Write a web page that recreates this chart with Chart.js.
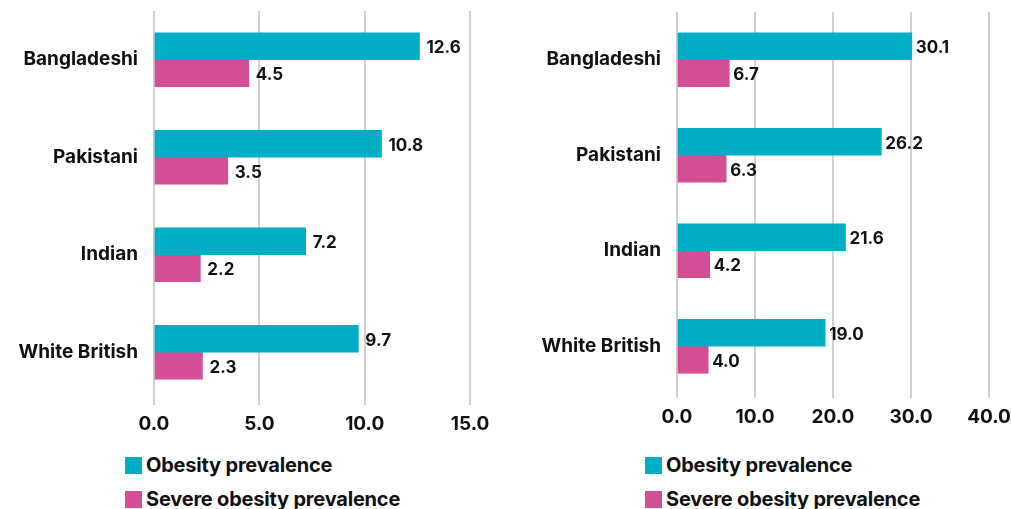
<!DOCTYPE html>
<html lang="en">
<head>
<meta charset="UTF-8">
<title>Obesity prevalence by ethnic group</title>
<script src="https://cdn.jsdelivr.net/npm/chart.js"></script>
<style>
  body { margin: 0; background: #fff; font-family: Inter, sans-serif; }
  canvas { position: absolute; top: 0; }
  #leftChart { left: 0; }
  #rightChart { left: 505px; }
  .legend { position: absolute; top: 448px; font-weight: 700; font-size: 20px; color: #111; letter-spacing: -0.2px; }
  .legend .row { display: flex; align-items: center; height: 34px; }
  .legend .box { width: 17px; height: 17px; margin-right: 4px; }
</style>
</head>
<body>

<canvas id="leftChart" width="505" height="445"></canvas>
<canvas id="rightChart" width="506" height="445"></canvas>
<div class="legend" id="leftLegend" style="left:125px"></div>
<div class="legend" id="rightLegend" style="left:645px"></div>

<script>
  // groups and series
  const groups = ["Bangladeshi", "Pakistani", "Indian", "White British"];
  const seriesNames = ["Obesity prevalence", "Severe obesity prevalence"];
  const seriesColors = ["#00ADC6", "#D54D94"];

  // left panel
  const leftObesity = [12.6, 10.8, 7.2, 9.7];
  const leftSevere = [4.5, 3.5, 2.2, 2.3];
  const leftTicks = [0, 5, 10, 15];

  // right panel
  const rightObesity = [30.1, 26.2, 21.6, 19.0];
  const rightSevere = [6.7, 6.3, 4.2, 4.0];
  const rightTicks = [0, 10, 20, 30, 40];

  const FONT = "Inter, sans-serif";

  // writes the value just past the end of each bar
  const barValues = {
    id: "barValues",
    afterDatasetsDraw(chart, args, opts) {
      const ctx = chart.ctx;
      ctx.save();
      ctx.font = "700 17px " + FONT;
      ctx.fillStyle = "#111";
      ctx.textBaseline = "middle";
      ctx.textAlign = "left";
      chart.data.datasets.forEach((ds, i) => {
        chart.getDatasetMeta(i).data.forEach((bar, j) => {
          ctx.fillText(ds.data[j].toFixed(1), bar.x + opts.gap, bar.y + 2);
        });
      });
      ctx.restore();
    }
  };

  function makeChart(id, obesity, severe, ticks, pad, yWidth, gap) {
    const ctx = document.getElementById(id).getContext("2d");
    return new Chart(ctx, {
      type: "bar",
      data: {
        labels: groups,
        datasets: [
          { label: seriesNames[0], data: obesity, backgroundColor: seriesColors[0], barThickness: 27 },
          { label: seriesNames[1], data: severe, backgroundColor: seriesColors[1], barThickness: 27 }
        ]
      },
      options: {
        indexAxis: "y",
        responsive: false,
        animation: false,
        layout: { padding: pad },
        plugins: {
          legend: { display: false },
          tooltip: { enabled: false },
          barValues: { gap: gap }
        },
        scales: {
          x: {
            min: ticks[0],
            max: ticks[ticks.length - 1],
            afterBuildTicks: s => { s.ticks = ticks.map(v => ({ value: v })); },
            afterFit: s => { s.height = 44; s.paddingLeft = 0; s.paddingRight = 0; },
            border: { display: false },
            grid: { color: "#D0D0D0", lineWidth: 2, drawTicks: true, tickLength: 4, tickColor: "#D0D0D0" },
            ticks: {
              padding: 8,
              color: "#111",
              font: { family: FONT, size: 19, weight: "700" },
              callback: v => Number(v).toFixed(1)
            }
          },
          y: {
            afterFit: s => { s.width = yWidth; s.paddingTop = 0; s.paddingBottom = 0; },
            border: { display: false },
            grid: { display: false, drawTicks: false },
            ticks: {
              padding: 16,
              color: "#111",
              font: { family: FONT, size: 19, weight: "700" }
            }
          }
        }
      },
      plugins: [barValues]
    });
  }

  makeChart("leftChart", leftObesity, leftSevere, leftTicks,
    { top: 11, right: 35, left: 0, bottom: 0 }, 154, 7);
  makeChart("rightChart", rightObesity, rightSevere, rightTicks,
    { top: 12, right: 22, left: 0, bottom: 7 }, 172, 4);

  // simple legend under each panel
  ["leftLegend", "rightLegend"].forEach(id => {
    const el = document.getElementById(id);
    seriesNames.forEach((name, i) => {
      const row = document.createElement("div");
      row.className = "row";
      const box = document.createElement("span");
      box.className = "box";
      box.style.background = seriesColors[i];
      row.appendChild(box);
      row.appendChild(document.createTextNode(name));
      el.appendChild(row);
    });
  });
</script>

</body>
</html>
